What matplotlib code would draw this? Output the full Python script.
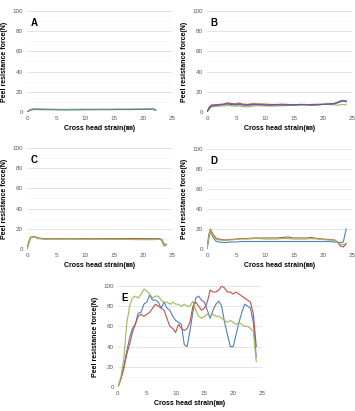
import matplotlib
matplotlib.use("Agg")
import matplotlib.pyplot as plt
import numpy as np

# strain positions (mm) and force values (N)
xa = [0, 0.5, 1, 1.5, 2, 3, 4, 5, 6, 7, 8, 9, 10, 11, 12, 13, 14, 15, 16, 17, 18, 19, 20, 21, 21.7, 22.2]
a_blue = [0, 1.5, 2.3, 2.5, 2.4, 2.3, 2.2, 2.1, 2.0, 2.0, 2.1, 2.1, 2.2, 2.2, 2.2, 2.3, 2.3, 2.3, 2.4, 2.4, 2.4, 2.5, 2.5, 2.6, 2.7, 1.5]
a_green = [0, 2.0, 3.0, 3.2, 3.0, 2.8, 2.7, 2.6, 2.5, 2.5, 2.6, 2.6, 2.7, 2.7, 2.6, 2.7, 2.7, 2.8, 2.8, 2.8, 2.9, 2.9, 3.0, 3.1, 3.3, 2.0]
a_yellow = [0, 2.5, 3.5, 3.6, 3.4, 3.1, 2.9, 2.8, 2.7, 2.7, 2.7, 2.8, 2.8, 2.8, 2.8, 2.9, 2.9, 2.9, 3.0, 3.0, 3.0, 3.1, 3.2, 3.3, 3.6, 2.5]

xb = [0, 0.4, 0.8, 1.5, 2, 3, 3.5, 4, 5, 5.5, 6, 7, 7.5, 8, 9, 10, 11, 12, 13, 14, 15, 16, 17, 18, 19, 20, 21, 22, 22.5, 23, 23.5, 24]
b_blue = [0, 4, 6, 6.5, 6.8, 7.5, 8.5, 8, 7.5, 8, 7, 6.5, 7, 7.2, 7.5, 7, 6.8, 7, 7.2, 7, 6.8, 7, 7.2, 6.8, 7, 7.5, 7.8, 8, 9, 10, 11, 10]
b_red = [0, 5, 7, 7, 7.5, 8, 9, 8.5, 8, 9, 8, 7.5, 8, 8.2, 8, 7.8, 7.5, 7.5, 7.8, 7.5, 7.2, 7.5, 7.5, 7, 7.2, 7.5, 8, 8.5, 9.5, 11, 11, 10.5]
b_green = [0, 3, 5, 5.5, 5.8, 6, 6.5, 6.2, 5.8, 6, 5.5, 5, 5.5, 6, 6.2, 6, 5.8, 6, 6.2, 6.5, 6.8, 7, 7.2, 7.5, 7.8, 8, 7.5, 7, 6.8, 7, 7.5, 7]
b_purple = [0, 4, 6.5, 7, 7, 7.5, 8, 7.5, 7, 7.5, 7.2, 7, 7.2, 7.5, 7.2, 7, 7, 7.2, 7, 7, 7.2, 7.5, 7.2, 7, 7.3, 7.5, 7.8, 8.5, 9.5, 10.5, 11.5, 11]

xc = [0, 0.3, 0.6, 1, 1.5, 2, 3, 4, 5, 6, 7, 8, 9, 10, 11, 12, 13, 14, 15, 16, 17, 18, 19, 20, 21, 22, 23, 23.3, 23.6, 24]
c_blue = [0, 6, 11, 12, 11.5, 10.5, 10, 10, 10, 10, 10, 10, 10, 10, 10, 10, 10, 10, 10, 10, 10, 10, 10, 10, 10, 10, 10, 8, 3, 4]
c_red = [0, 7, 11.5, 12.2, 11.8, 10.8, 10.2, 10.3, 10.4, 10.3, 10.4, 10.3, 10.2, 10.3, 10.2, 10.2, 10.4, 10.3, 10.2, 10.2, 10.3, 10.3, 10.2, 10.1, 10, 10, 9.8, 9, 5, 4.5]
c_green = [0, 5, 11, 11.8, 11.2, 10.3, 9.8, 9.9, 9.9, 9.8, 9.9, 9.9, 9.8, 9.8, 9.8, 9.7, 9.8, 9.7, 9.6, 9.6, 9.5, 9.4, 9.3, 9.2, 9.2, 9.3, 9.5, 7.5, 3.5, 5]

xd = [0, 0.3, 0.6, 1, 1.5, 2, 3, 4, 5, 6, 7, 8, 9, 10, 11, 12, 13, 14, 15, 16, 17, 18, 19, 20, 21, 22, 22.5, 23, 23.5, 24]
d_blue = [0, 10, 18, 12, 8, 7, 6.5, 7, 7, 7.5, 7.5, 7.5, 7.5, 7.5, 7.5, 7.5, 7.5, 7.5, 7.5, 7.5, 7.5, 7.5, 7.5, 7.5, 7.5, 7, 7, 6.5, 7, 20]
d_red = [0, 14, 20, 15, 11, 10, 9, 9.5, 10, 10.5, 10.5, 11, 11, 11, 11, 11, 11.5, 12, 11, 11, 11, 11.5, 10.5, 10, 9.5, 9, 7, 3, 2, 5]
d_green = [0, 12, 19, 13, 10, 9, 8.5, 9, 9.5, 10, 10, 10.5, 10.5, 10, 10, 10, 10.5, 10.5, 10, 10, 10, 10.5, 10, 9.5, 9, 8.5, 7.5, 5, 4, 6]

xe = [0, 0.5, 1, 1.5, 2, 2.5, 3, 3.5, 4, 4.5, 5, 5.5, 6, 6.5, 7, 7.5, 8, 8.5, 9, 9.5, 10, 10.5, 11, 11.5,
      12, 12.5, 13, 13.5, 14, 14.5, 15, 15.5, 16, 16.5, 17, 17.5, 18, 18.5, 19, 19.5, 20, 20.5, 21, 21.5,
      22, 22.5, 23, 23.5, 24]
e_blue = [0, 8, 20, 35, 48, 58, 62, 73, 74, 82, 84, 91, 86, 86, 84, 78, 84, 78, 76, 70, 66, 64, 62, 42,
          40, 56, 74, 88, 90, 86, 84, 76, 68, 76, 82, 85, 80, 64, 52, 40, 40, 52, 64, 74, 82, 80, 78, 64, 30]
e_red = [0, 8, 18, 32, 42, 54, 62, 70, 72, 70, 72, 74, 78, 82, 80, 78, 76, 68, 60, 58, 54, 62, 58, 56,
         58, 64, 80, 84, 80, 76, 78, 84, 96, 94, 94, 96, 100, 98, 94, 94, 92, 94, 92, 90, 88, 86, 84, 72, 40]
e_green = [0, 10, 28, 62, 80, 88, 90, 88, 92, 97, 95, 92, 88, 90, 90, 86, 84, 84, 82, 84, 82, 82, 80, 82,
           80, 80, 85, 76, 70, 68, 70, 72, 70, 72, 70, 70, 68, 66, 64, 66, 64, 62, 64, 62, 60, 60, 58, 55, 25]

blue = "#4f81bd"
red = "#c0504d"
green = "#9bbb59"
yellow = "#d6c75a"
purple = "#6b5a9c"

plt.rcParams['font.family'] = ['Liberation Sans', 'DejaVu Sans', 'Noto Sans CJK JP']

fig = plt.figure(figsize=(3.55, 4.11), dpi=100)
W, H = 355.0, 411.0


def panel(left, top, right, bottom, letter, series):
    ax = fig.add_axes([left / W, 1 - bottom / H, (right - left) / W, (bottom - top) / H])
    for x, y, c in series:
        ax.plot(x, y, color=c, lw=0.8)
    ax.set_xlim(0, 25)
    ax.set_ylim(0, 100)
    ax.set_xticks([0, 5, 10, 15, 20, 25])
    ax.set_yticks([0, 20, 40, 60, 80, 100])
    ax.set_yticks([10, 30, 50, 70, 90], minor=True)
    ax.grid(True, which='major', axis='y', color='#d9d9d9', lw=0.5)
    ax.grid(True, which='minor', axis='y', color='#efefef', lw=0.4)
    ax.tick_params(which='both', length=0, labelsize=4.5, labelcolor='#595959', pad=3)
    for s in ax.spines.values():
        s.set_visible(False)
    ax.set_axisbelow(True)
    ax.set_xlabel('Cross head strain(㎜)', fontsize=5, fontweight='bold', labelpad=3)
    ax.set_ylabel('Peel resistance force(N)', fontsize=5, fontweight='bold', labelpad=3)
    ax.text(0.025, 0.93, letter, transform=ax.transAxes, fontsize=7, fontweight='bold', va='top')
    return ax


panel(27, 11, 172, 112, 'A', [(xa, a_yellow, yellow), (xa, a_green, green), (xa, a_blue, blue)])
panel(207, 11, 352, 112, 'B', [(xb, b_green, green), (xb, b_blue, blue), (xb, b_red, red), (xb, b_purple, purple)])
panel(27, 148, 172, 249, 'C', [(xc, c_blue, blue), (xc, c_red, red), (xc, c_green, green)])
panel(207, 149, 352, 249, 'D', [(xd, d_blue, blue), (xd, d_red, red), (xd, d_green, green)])
panel(118, 286, 262, 387, 'E', [(xe, e_blue, blue), (xe, e_red, red), (xe, e_green, green)])

fig.savefig('out.png', dpi=100)
